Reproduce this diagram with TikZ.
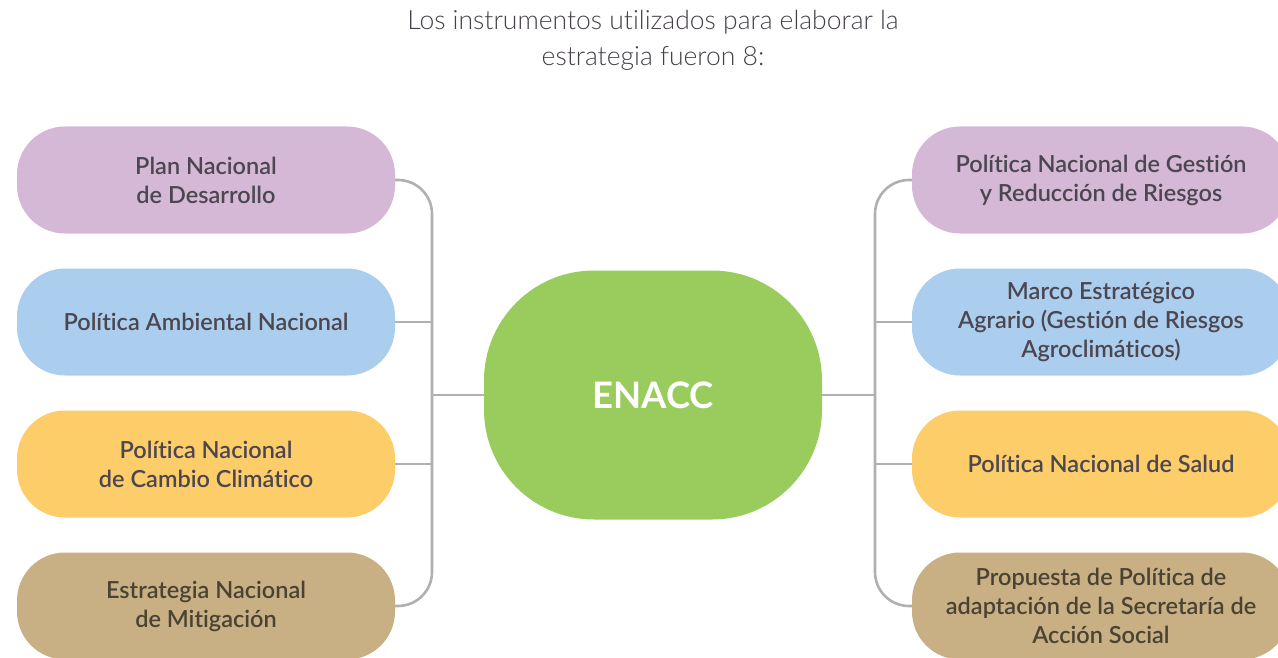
\documentclass[tikz,border=0pt]{standalone}
\usepackage{fontspec}
\setmainfont{Lato}[Ligatures=NoCommon]
\newfontfamily\titlefont{Lato Light}[Ligatures=NoCommon]
\newfontfamily\labelfont{Lato Semibold}[Ligatures=NoCommon]
\usepackage{tikz}
\usetikzlibrary{positioning}

\definecolor{lila}{HTML}{D4B8D6}
\definecolor{celeste}{HTML}{ABCEEE}
\definecolor{amarillo}{HTML}{FDCD6A}
\definecolor{arena}{HTML}{C8B084}
\definecolor{verde}{HTML}{99CC5C}
\definecolor{linea}{HTML}{B0B0B4}
\definecolor{texto}{HTML}{4B4650}
\definecolor{textoarena}{HTML}{4A4232}

\tikzset{
  instr/.style={rounded corners=48pt, minimum width=378pt, minimum height=107pt,
    align=center, text=texto, font=\labelfont\fontsize{23.5}{29}\selectfont, inner sep=0pt},
  link/.style={draw=linea, line width=2.6pt}
}

\begin{document}
\begin{tikzpicture}[x=1pt,y=-1pt]
\useasboundingbox (0,0) rectangle (1278,658);
%title
\node[font=\titlefont\fontsize{26.5}{36}\selectfont, text=texto!90!black, align=center] (titulo) at (653,40)
  {Los instrumentos utilizados para elaborar la\\estrategia fueron 8:};
%center
\node[fill=verde, rounded corners=110pt, minimum width=338pt, minimum height=249pt,
  text=white, font=\fontsize{36.5}{36.5}\selectfont\bfseries] (enacc) at (653,395) {ENACC};
%left column
\node[instr, fill=lila] (pnd) at (206,180) {Plan Nacional\\de Desarrollo};
\node[instr, fill=celeste] (pan) at (206,322) {Política Ambiental Nacional};
\node[instr, fill=amarillo] (pncc) at (206,464) {Política Nacional\\de Cambio Climático};
\node[instr, fill=arena, text=textoarena] (enm) at (206,606) {Estrategia Nacional\\de Mitigación};
%right column
\node[instr, fill=lila] (pngr) at (1101,180) {Política Nacional de Gestión\\y Reducción de Riesgos};
\node[instr, fill=celeste] (mea) at (1101,322) {Marco Estratégico\\Agrario (Gestión de Riesgos\\Agroclimáticos)};
\node[instr, fill=amarillo] (pns) at (1101,464) {Política Nacional de Salud};
\node[instr, fill=arena, text=textoarena] (ppas) at (1101,606) {Propuesta de Política de\\adaptación de la Secretaría de\\Acción Social};
%trunks
\coordinate (troncoL) at (432,395);
\coordinate (troncoR) at (875,395);
\draw[link, rounded corners=34pt] (pnd.east) -| (troncoL) |- (enm.east);
\draw[link] (pan.east) -- (pan.east -| troncoL);
\draw[link] (pncc.east) -- (pncc.east -| troncoL);
\draw[link] (troncoL) -- (enacc.west);
\draw[link, rounded corners=34pt] (pngr.west) -| (troncoR) |- (ppas.west);
\draw[link] (mea.west) -- (mea.west -| troncoR);
\draw[link] (pns.west) -- (pns.west -| troncoR);
\draw[link] (troncoR) -- (enacc.east);
\end{tikzpicture}
\end{document}
